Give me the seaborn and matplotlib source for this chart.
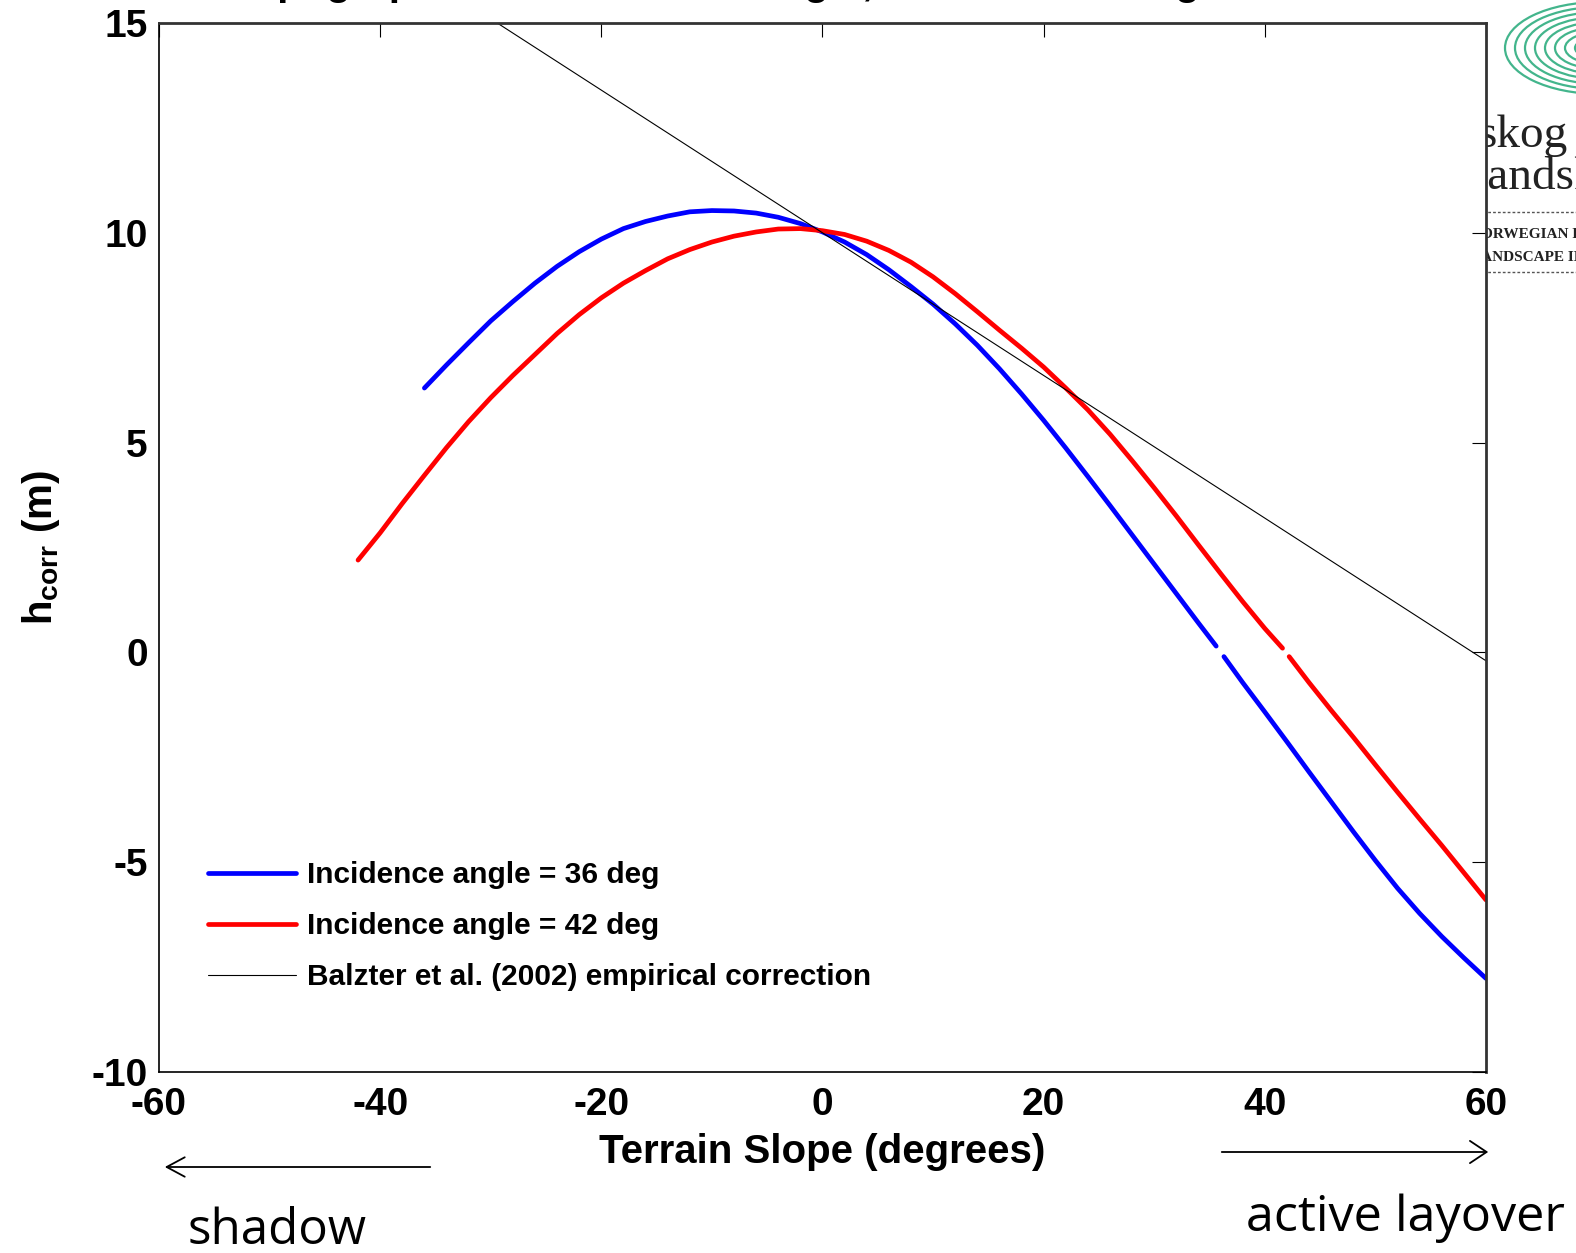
import numpy as np
import pandas as pd
import matplotlib
matplotlib.use("Agg")
import matplotlib.pyplot as plt
import seaborn as sns
from matplotlib.patches import FancyArrowPatch, Ellipse
from matplotlib.lines import Line2D

# ---------------- data ----------------
blue_slope_a = [-36, -34, -32, -30, -28, -26, -24, -22, -20, -18, -16, -14, -12, -10, -8, -6, -4, -2,
                0, 2, 4, 6, 8, 10, 12, 14, 16, 18, 20, 22, 24, 26, 28, 30, 32, 34, 35.6]
blue_h_a = [6.3, 6.85, 7.38, 7.9, 8.36, 8.8, 9.2, 9.55, 9.85, 10.1, 10.27, 10.4, 10.5, 10.53, 10.52, 10.47, 10.37, 10.22,
            10.02, 9.78, 9.48, 9.12, 8.72, 8.3, 7.83, 7.32, 6.76, 6.16, 5.53, 4.87, 4.19, 3.5, 2.8, 2.1, 1.4, 0.7, 0.15]
blue_slope_b = [36.3, 38, 40, 42, 44, 46, 48, 50, 52, 54, 56, 58, 60]
blue_h_b = [-0.1, -0.72, -1.42, -2.13, -2.85, -3.56, -4.27, -4.96, -5.62, -6.22, -6.77, -7.28, -7.77]

red_slope_a = [-42, -40, -38, -36, -34, -32, -30, -28, -26, -24, -22, -20, -18, -16, -14, -12, -10, -8, -6, -4, -2,
               0, 2, 4, 6, 8, 10, 12, 14, 16, 18, 20, 22, 24, 26, 28, 30, 32, 34, 36, 38, 40, 41.6]
red_h_a = [2.2, 2.85, 3.55, 4.22, 4.88, 5.5, 6.07, 6.6, 7.1, 7.6, 8.05, 8.45, 8.8, 9.1, 9.38, 9.6, 9.78, 9.92, 10.02, 10.09, 10.1,
           10.05, 9.96, 9.8, 9.58, 9.3, 8.95, 8.55, 8.12, 7.68, 7.25, 6.8, 6.3, 5.78, 5.2, 4.57, 3.92, 3.25, 2.56, 1.88, 1.21, 0.57, 0.1]
red_slope_b = [42.2, 44, 46, 48, 50, 52, 54, 56, 58, 60]
red_h_b = [-0.1, -0.72, -1.38, -2.02, -2.68, -3.33, -3.97, -4.6, -5.25, -5.9]

balzter_slope = [-60, 60]
balzter_h = [20.2, -0.2]

labels = ["Incidence angle = 36 deg", "Incidence angle = 42 deg",
          "Balzter et al. (2002) empirical correction"]
xticks = [-60, -40, -20, 0, 20, 40, 60]
yticks = [-10, -5, 0, 5, 10, 15]

# ---------------- style ----------------
sns.set_style("white")
plt.rcParams['font.family'] = ['Liberation Sans', 'DejaVu Sans']
plt.rcParams['font.weight'] = 'bold'
plt.rcParams['mathtext.fontset'] = 'custom'
plt.rcParams['mathtext.bf'] = 'Liberation Sans:bold'
plt.rcParams['mathtext.rm'] = 'Liberation Sans:bold'
plt.rcParams['axes.unicode_minus'] = False
for k in ['text.color', 'axes.labelcolor', 'xtick.color', 'ytick.color', 'axes.edgecolor']:
    plt.rcParams[k] = 'black'

W, H = 1576, 1253
fig = plt.figure(figsize=(W / 100, H / 100), dpi=100)
fig.patch.set_facecolor('white')
ax = fig.add_axes([159 / W, 1 - 1072 / H, (1486 - 159) / W, (1072 - 23) / H])
ax.set_facecolor('white')

rows = []
for s, h, name, seg in [(blue_slope_a, blue_h_a, labels[0], 'b1'), (blue_slope_b, blue_h_b, labels[0], 'b2'),
                        (red_slope_a, red_h_a, labels[1], 'r1'), (red_slope_b, red_h_b, labels[1], 'r2')]:
    for xv, yv in zip(s, h):
        rows.append({'slope': xv, 'h': yv, 'series': name, 'seg': seg})
df = pd.DataFrame(rows)

LW = 3.4
sns.lineplot(data=df, x='slope', y='h', hue='series', units='seg', estimator=None, sort=False,
             palette={labels[0]: '#0000ff', labels[1]: '#ff0000'}, linewidth=LW, legend=False, ax=ax)
sns.lineplot(x=balzter_slope, y=balzter_h, color='black', linewidth=0.8, ax=ax)

ax.set_xlim(-60, 60)
ax.set_ylim(-10, 15)
ax.set_xticks(xticks)
ax.set_yticks(yticks)
ax.set_xticklabels([str(t) for t in xticks])
ax.set_yticklabels([str(t) for t in yticks])
ax.tick_params(axis='both', direction='in', length=10, width=0.8, top=True, right=True, labelsize=28, colors='black')
ax.tick_params(axis='x', pad=11)
ax.tick_params(axis='y', pad=8)
for side in ['left', 'bottom']:
    ax.spines[side].set_linewidth(1.2)
    ax.spines[side].set_color('black')
for side in ['top', 'right']:
    ax.spines[side].set_linewidth(2.0)
    ax.spines[side].set_color('#333333')
    ax.spines[side].set_visible(True)
ax.grid(False)

ax.set_xlabel('Terrain Slope (degrees)', fontsize=29, fontweight='bold', labelpad=7, color='black')
ax.set_ylabel(r'$\mathbf{h_{corr}}$ (m)', fontsize=29, fontweight='bold', labelpad=21, color='black')

handles = [Line2D([], [], color='#0000ff', lw=LW), Line2D([], [], color='#ff0000', lw=LW),
           Line2D([], [], color='black', lw=0.8)]
ax.legend(handles, labels, loc='upper left', bbox_to_anchor=(0.0369, 0.201), frameon=False,
          handlelength=2.95, handletextpad=0.38, labelspacing=0.77, borderaxespad=0, borderpad=0,
          labelcolor='black',
          prop={'family': 'Liberation Sans', 'weight': 'bold', 'size': 21.5})

# ---------------- cut-off title ----------------
fig.text(231 / W, 1 + 5 / H, 'Topographic correction vs. angle, at incidence angle', fontsize=29,
         fontweight='bold', ha='left', va='baseline', color='black')

# ---------------- arrows and annotations ----------------
def fxy(px, py):
    return (px / W, 1 - py / H)

arr_l = FancyArrowPatch(fxy(433, 1167), fxy(162, 1167), transform=fig.transFigure,
                        arrowstyle='->,head_length=13,head_width=7', mutation_scale=1, lw=1.3, color='black')
arr_r = FancyArrowPatch(fxy(1219, 1152), fxy(1491, 1152), transform=fig.transFigure,
                        arrowstyle='->,head_length=12,head_width=8', mutation_scale=1, lw=1.3, color='black')
fig.add_artist(arr_l)
fig.add_artist(arr_r)
fig.text(*fxy(277, 1244), 'shadow', fontsize=35.5, family='Open Sans', fontweight='normal',
         ha='center', va='baseline', color='black')
fig.text(*fxy(1246, 1231), 'active layover', fontsize=36.3, family='Open Sans', fontweight='normal',
         ha='left', va='baseline', color='black')

# ---------------- logo (partially hidden behind the axes) ----------------
for i in range(8):
    e = Ellipse(fxy(1600, 48), (190 - 20 * i) / W, (92 - 10 * i) / H, transform=fig.transFigure,
                fill=False, edgecolor='#43b58c', lw=1.6, zorder=-2)
    fig.add_artist(e)
fig.text(*fxy(1478, 147), 'skog', fontsize=34, family='Liberation Serif', fontweight='normal', zorder=-1,
         va='baseline', color='#222222')
fig.text(*fxy(1474, 189), 'landskap', fontsize=34, family='Liberation Serif', fontweight='normal', zorder=-1,
         va='baseline', color='#222222')
fig.text(*fxy(1470, 238), 'NORWEGIAN FOREST', fontsize=11, family='Liberation Serif', fontweight='bold', zorder=-1,
         va='baseline', color='#222222')
fig.text(*fxy(1471, 261), 'LANDSCAPE INSTITUTE', fontsize=11, family='Liberation Serif', fontweight='bold', zorder=-1,
         va='baseline', color='#222222')
for yy in [212, 272]:
    fig.add_artist(Line2D([1478 / W, 1.0], [1 - yy / H, 1 - yy / H], transform=fig.transFigure,
                          color='#555555', lw=1.0, ls=(0, (2, 1.5)), zorder=-1))

fig.savefig('out.png', dpi=100, facecolor='white')
